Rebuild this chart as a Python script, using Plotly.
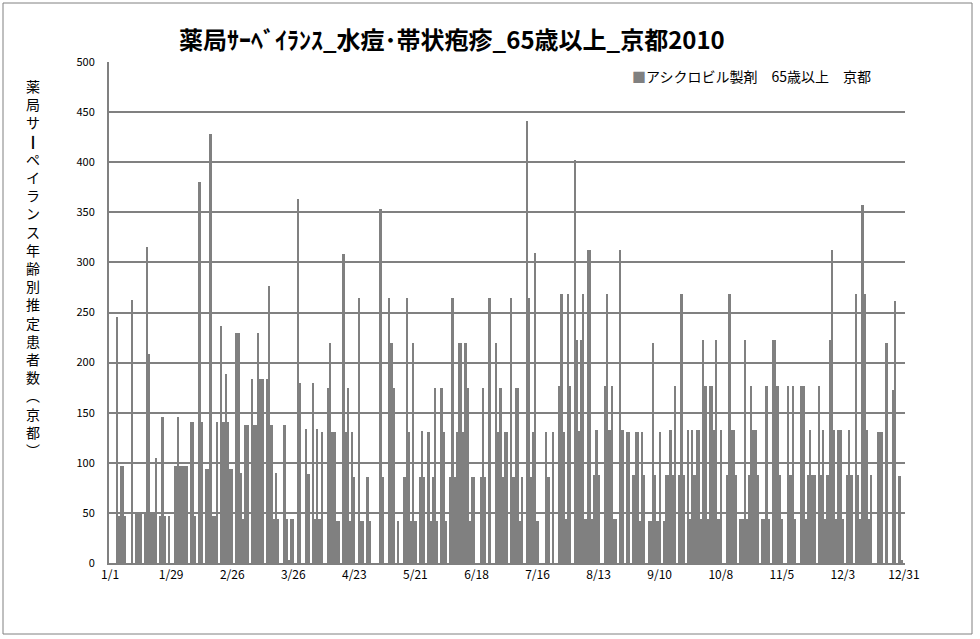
import pandas as pd
import plotly.graph_objects as go

# ---- data (daily values, 2010) ----
jan = [0,0,0,246,47,97,97,47,0,0,262,0,50,50,50,0,50,315,209,50,50,105,0,47,146,47,0,47,0,0,97]
feb = [146,97,97,97,97,0,141,141,47,0,380,141,0,94,94,428,47,47,141,0,237,141,189,141,94,94,0,230]
mar = [230,90,44,138,138,0,184,138,138,230,184,184,0,184,276,138,44,90,44,0,0,138,44,3,44,44,0,363,180,0,0]
apr = [134,89,0,180,44,134,44,131,0,0,175,220,131,131,42,42,0,308,131,175,42,131,86,0,264,42,42,0,86,42]
may = [0,0,0,0,353,86,0,0,264,220,175,0,42,0,0,86,264,131,42,220,42,0,86,132,86,0,131,42,86,175,42]
jun = [0,175,131,42,0,86,264,86,131,220,220,131,220,175,42,86,86,0,0,86,175,86,0,264,0,0,220,131,175,86]
jul = [131,131,0,264,86,175,175,42,86,0,441,264,86,131,309,42,0,0,0,131,86,0,131,0,0,177,268,131,44,268,177]
aug = [0,402,223,132,223,268,44,312,312,44,88,133,88,0,0,177,268,133,177,44,44,0,312,133,0,131,131,0,88,131,131]
sep = [42,131,88,0,42,42,220,88,42,131,0,42,88,88,133,88,177,0,88,268,88,0,133,44,133,88,133,133,44,223]
oct_ = [177,44,177,177,133,223,44,133,0,0,88,268,133,133,88,0,44,44,223,44,88,177,133,133,88,0,44,44,177,44,0]
nov = [223,223,177,88,44,0,0,177,88,177,44,0,0,177,177,44,88,133,88,88,0,177,88,133,44,88,223,312,133,44]
dec = [133,133,44,0,88,133,88,0,268,88,44,357,268,133,44,88,0,0,131,131,131,0,220,0,0,173,261,0,87,3,0]

values = jan + feb + mar + apr + may + jun + jul + aug + sep + oct_ + nov + dec
dates = pd.date_range("2010-01-01", "2010-12-31", freq="D")
day_index = list(range(len(dates)))

tick_days = list(range(0, 365, 28))
tick_labels = [f"{dates[i].month}/{dates[i].day}" for i in tick_days]

series_name = "アシクロビル製剤　65歳以上　京都"
title_text = "薬局ｻｰﾍﾞｲﾗﾝｽ_水痘･帯状疱疹_65歳以上_京都2010"
ylabel_chars = list("薬局サ") + ["<b>丨</b>"] + list("ペイランス年齢別推定患者数") + ["︵", "京", "都", "︶"]

JP = "Noto Sans CJK JP"
GREY = "#808080"

fig = go.Figure()
fig.add_trace(go.Bar(
    x=day_index, y=values, marker=dict(color=GREY, line=dict(width=0)),
    name=series_name, showlegend=False,
))

L, R, T, B = 109, 75, 62, 76
W, H = 980, 639
pw, ph = W - L - R, H - T - B

def px_x(p):
    return (p - L) / pw

def px_y(p):
    return (H - B - p) / ph

fig.update_layout(
    width=W, height=H,
    margin=dict(l=L, r=R, t=T, b=B),
    paper_bgcolor="white", plot_bgcolor="white",
    bargap=0,
    font=dict(family=JP, color="black"),
    xaxis=dict(
        range=[-0.5, 364.5], tickmode="array", tickvals=tick_days, ticktext=tick_labels,
        showgrid=False, showline=True, linecolor=GREY, linewidth=2, ticks="",
        tickfont=dict(size=12, family=JP), zeroline=False,
    ),
    yaxis=dict(
        range=[0, 500], tickmode="array", tickvals=list(range(0, 501, 50)),
        showgrid=True, gridcolor=GREY, gridwidth=2, showline=True, linecolor=GREY,
        linewidth=2, ticks="", tickfont=dict(size=11, family=JP), zeroline=False,
        ticklabelstandoff=10,
    ),
    annotations=[
        dict(text=f"<b>{title_text}</b>", x=px_x(452), y=px_y(38), xref="paper", yref="paper",
             showarrow=False, xanchor="center", yanchor="middle",
             font=dict(size=24, family=JP, color="black")),
        dict(text=f"<span style='color:{GREY}'>■</span>{series_name}", x=px_x(630), y=px_y(76),
             xref="paper", yref="paper", showarrow=False, xanchor="left", yanchor="middle",
             font=dict(size=14, family=JP, color="black")),
        dict(text="<br>".join(ylabel_chars), x=px_x(33), y=px_y(268), xref="paper", yref="paper",
             showarrow=False, xanchor="center", yanchor="middle",
             font=dict(size=14, family=JP, color="black")),
    ],
    shapes=[
        dict(type="rect", xref="paper", yref="paper", x0=px_x(3), x1=px_x(972),
             y0=px_y(634), y1=px_y(3), line=dict(color=GREY, width=1)),
    ],
)

fig.write_html("out.html")
